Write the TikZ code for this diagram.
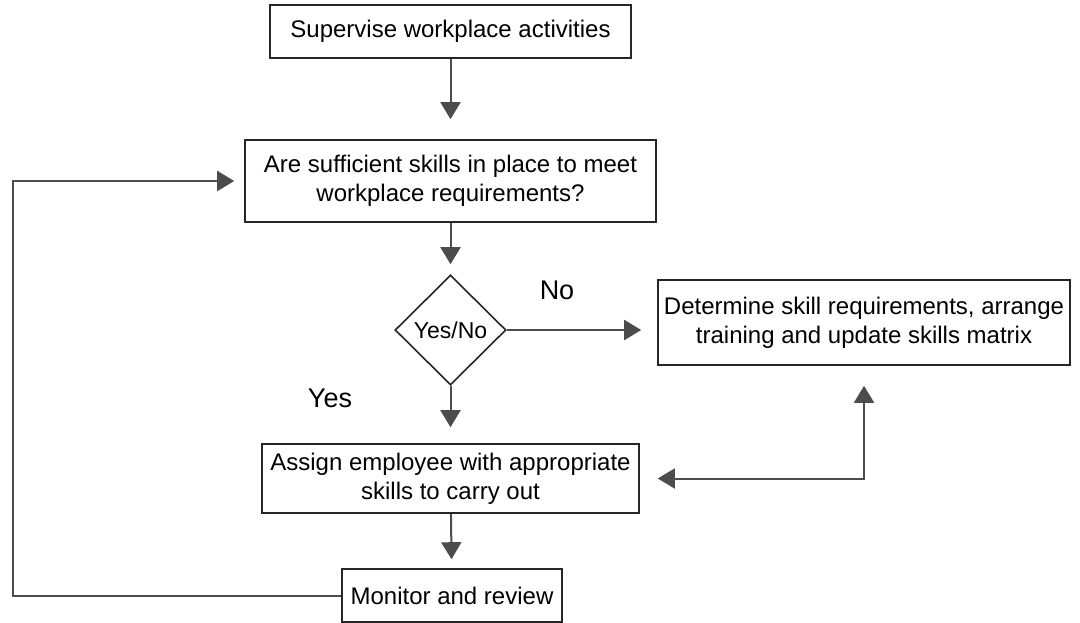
\documentclass[tikz,border=0pt]{standalone}
\usepackage{fontspec}
\setmainfont{Liberation Sans}
\usetikzlibrary{arrows.meta,shapes.geometric}
\begin{document}
\begin{tikzpicture}[x=0.5pt,y=-0.5pt,
  >={Triangle[length=8.5pt,width=10pt]},
  box/.style={draw=black!85, line width=0.8pt, inner sep=0pt, align=center, font=\fontsize{12}{14.5}\selectfont},
  decision/.style={diamond, draw=black!85, line width=0.8pt, inner sep=0pt, minimum width=55.5pt, minimum height=55pt, font=\fontsize{11.5}{13}\selectfont},
  flow/.style={->, draw=black!70, line width=1pt},
  answer/.style={font=\fontsize{13.5}{16}\selectfont}]
\useasboundingbox (0,0) rectangle (1080,622);
\node [box, minimum width=180.5pt, minimum height=26.5pt] (sup) at (450.5,31.5) {Supervise workplace activities};
\node [box, minimum width=205.5pt, minimum height=41pt] (ask) at (450.5,181) {Are sufficient skills in place to meet\\workplace requirements?};
\node [decision] (yn) at (450.5,330) {Yes/No};
\node [box, minimum width=206pt, minimum height=42.5pt] (det) at (864,322.5) {Determine skill requirements, arrange\\training and update skills matrix};
\node [box, minimum width=188.5pt, minimum height=34.5pt] (assign) at (450.5,478.5) {Assign employee with appropriate\\skills to carry out};
\node [box, minimum width=110pt, minimum height=26.5pt] (mon) at (452,595.5) {Monitor and review};
\node [answer] (no) at (557,290) {No};
\node [answer] (yes) at (330,398) {Yes};
\coordinate (loop) at (13,594);
\draw [flow, shorten >=10pt] (sup) -- (ask);
\draw [flow, shorten >=5pt] (ask) -- (yn);
\draw [flow, shorten >=8pt] (yn) -- (assign);
\draw [flow, shorten >=8pt] (yn.east) -- (yn.east -| det.west);
\draw [flow, <->, shorten <=9pt, shorten >=10pt] (assign.east) -| (det.south);
\draw [flow, shorten >=4.5pt] (assign) -- (mon);
\draw [flow, shorten >=5pt] (mon.west) -- (mon.west -| loop) -- (ask.west -| loop) -- (ask.west);
\end{tikzpicture}
\end{document}
